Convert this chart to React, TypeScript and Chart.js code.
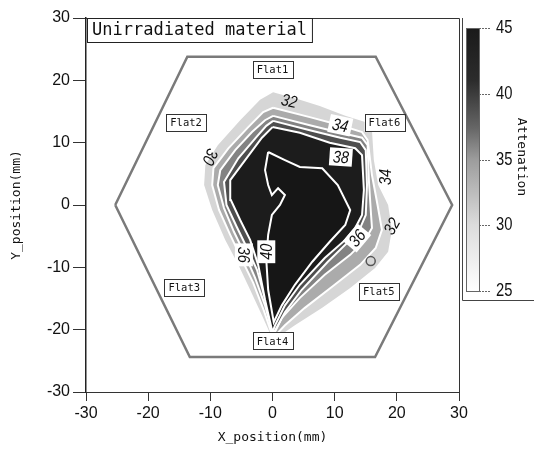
import React, { useEffect, useRef } from 'react';
import { Chart, registerables } from 'chart.js';
Chart.register(...registerables);

// ---------- data ----------
const xTickValues = [-30, -20, -10, 0, 10, 20, 30];
const yTickValues = [-30, -20, -10, 0, 10, 20, 30];

const hexX = [-25.3, -13.7, 16.6, 28.9, 16.5, -13.3, -25.3];
const hexY = [0, 23.8, 23.8, 0, -24.4, -24.4, 0];

const contourLevels = [30, 32, 34, 36, 38, 40];

const c30X = [0.1, 4.4, 7.6, 11.7, 14.9, 16.0, 16.3, 17.0, 18.6, 19.2, 18.6, 16.5, 12.5, 8.0, 3.6, 0.1, -1.7, -3.6, -5.5, -7.6, -9.7, -11.0, -10.8, -8.8, -5.2, -2.0, 0.1];
const c30Y = [18.1, 16.9, 15.9, 14.3, 13.3, 12.0, 7.2, 3.2, 0, -4.0, -7.5, -10.1, -13.3, -16.5, -19.3, -21.7, -17.7, -13.6, -9.6, -5.6, -0.8, 3.2, 6.4, 9.6, 13.6, 16.9, 18.1];

const c32X = [0.1, 6.0, 10.9, 14.4, 15.3, 16.0, 16.9, 17.6, 16.6, 14.1, 10.0, 5.2, 2.0, 0.1, -1.4, -3.1, -4.9, -6.8, -8.6, -9.7, -9.5, -7.1, -3.9, -1.5, 0.1];
const c32Y = [15.6, 14.1, 12.8, 11.7, 10.4, 4.8, 0, -4.0, -6.9, -9.6, -12.8, -16.5, -19.3, -21.3, -16.9, -12.5, -8.8, -4.8, -0.8, 3.2, 5.9, 9.1, 12.5, 14.9, 15.6];

const c34X = [0.1, 6.0, 10.9, 14.4, 15.3, 15.5, 15.8, 16.0, 14.9, 12.5, 8.4, 4.4, 1.5, 0.1, -1.2, -2.8, -4.4, -6.2, -7.8, -8.8, -8.4, -6.0, -3.3, -1.2, 0.1];
const c34Y = [14.3, 12.8, 11.6, 10.8, 9.6, 4.0, -0.8, -3.7, -5.6, -8.0, -11.2, -14.9, -18.1, -21.0, -16.1, -11.7, -8.0, -4.3, -0.5, 3.2, 5.6, 8.8, 11.7, 13.6, 14.3];

const c36X = [0.1, 6.0, 10.9, 14.1, 15.0, 15.2, 15.0, 14.1, 12.5, 8.9, 4.7, 2.0, 0.1, -1.0, -2.5, -4.1, -5.8, -7.4, -7.8, -5.5, -2.6, -1.0, 0.1];
const c36Y = [13.5, 12.0, 10.8, 10.1, 8.8, 3.2, -1.6, -3.7, -5.6, -9.1, -13.6, -17.2, -20.7, -15.6, -10.4, -6.9, -3.4, 0, 3.7, 7.5, 10.9, 12.7, 13.5];

const c38X = [0, 4.4, 9.2, 13.3, 14.4, 14.7, 14.4, 13.3, 11.7, 8.4, 4.4, 2.0, 0.4, 0, -1.2, -2.3, -3.6, -5.2, -6.7, -6.8, -4.4, -1.7, 0];
const c38Y = [12.5, 11.6, 10.0, 9.1, 8.0, 2.4, -1.6, -3.7, -5.6, -8.5, -12.8, -16.1, -19.3, -20.4, -15.2, -9.6, -5.6, -2.4, 0.8, 4.0, 7.2, 10.8, 12.5];

const c40X = [-0.7, 2.0, 4.4, 8.0, 10.5, 12.5, 11.7, 9.2, 6.4, 3.6, 1.5, 0.2, -0.7, -1.0, -0.7, -0.1, 1.2, 2.0, 0.9, -0.1, -0.7, -1.2, -0.7];
const c40Y = [8.5, 7.2, 6.1, 5.9, 3.2, -0.8, -3.2, -5.9, -9.1, -12.8, -16.1, -18.8, -13.6, -8.8, -4.8, -1.6, 0.0, 1.6, 2.7, 1.6, 3.2, 5.6, 8.5];

const contourLabelText = ['32', '34', '38', '30', '34', '32', '36', '36', '40'];
const contourLabelX = [2.7, 10.9, 11.0, -10.0, 18.2, 19.2, 13.6, -4.6, -1.0];
const contourLabelY = [16.7, 12.8, 7.7, 7.7, 4.5, -3.4, -5.3, -8.0, -7.5];

const markerX = [15.8];
const markerY = [-9.0];

const flatNames = ['Flat1', 'Flat2', 'Flat3', 'Flat4', 'Flat5', 'Flat6'];
const flatX = [0, -13.9, -14.2, 0, 17.1, 18.0];
const flatY = [21.7, 13.3, -13.2, -21.8, -13.8, 13.2];

const colorbarTicks = [25, 30, 35, 40, 45];
const colorbarMin = 25;
const colorbarMax = 45;

const titleText = 'Unirradiated material';
const xTitle = 'X_position(mm)';
const yTitle = 'Y_position(mm)';
const colorbarTitle = 'Attenation';

// ---------- styles ----------
const bandColors = ['#d6d6d6', '#ababab', '#838383', '#4e4e4e', '#1c1c1c', '#161616'];
const labelAngles = [12, 12, 4, 115, -90, -60, -50, 90, -90];
const labelBoxed = [false, true, true, false, false, false, true, true, true];
const SANS = '"Liberation Sans", Arial, sans-serif';
const MONO = '"DejaVu Sans Mono", monospace';

const toPts = (xs: number[], ys: number[]) => xs.map((x, i) => ({ x, y: ys[i] }));

const overlayPlugin = {
  id: 'overlay',
  afterDatasetsDraw(chart: any) {
    const { ctx, chartArea } = chart;
    const xs = chart.scales.x;
    const ys = chart.scales.y;
    ctx.save();
    // contour labels
    contourLabelText.forEach((t, i) => {
      const px = xs.getPixelForValue(contourLabelX[i]);
      const py = ys.getPixelForValue(contourLabelY[i]);
      ctx.save();
      ctx.translate(px, py);
      ctx.rotate((labelAngles[i] * Math.PI) / 180);
      ctx.scale(0.85, 1);
      ctx.font = 'italic 17px ' + SANS;
      const w = ctx.measureText(t).width;
      if (labelBoxed[i]) {
        ctx.fillStyle = '#ffffff';
        ctx.fillRect(-w / 2 - 4, -9, w + 8, 18);
      }
      ctx.fillStyle = '#111';
      ctx.textAlign = 'center';
      ctx.textBaseline = 'middle';
      ctx.fillText(t, 0, 1);
      ctx.restore();
    });
    // marker circle
    markerX.forEach((mx, i) => {
      ctx.beginPath();
      ctx.arc(xs.getPixelForValue(mx), ys.getPixelForValue(markerY[i]), 4.5, 0, Math.PI * 2);
      ctx.strokeStyle = '#555';
      ctx.lineWidth = 1.5;
      ctx.stroke();
    });
    // flat labels
    ctx.font = '10.5px ' + MONO;
    flatNames.forEach((n, i) => {
      const px = xs.getPixelForValue(flatX[i]);
      const py = ys.getPixelForValue(flatY[i]);
      const w = ctx.measureText(n).width + 8;
      const h = 17;
      ctx.fillStyle = '#fff';
      ctx.fillRect(px - w / 2, py - h / 2, w, h);
      ctx.strokeStyle = '#333';
      ctx.lineWidth = 1;
      ctx.strokeRect(Math.round(px - w / 2) + 0.5, Math.round(py - h / 2) + 0.5, Math.round(w), h);
      ctx.fillStyle = '#111';
      ctx.textAlign = 'center';
      ctx.textBaseline = 'middle';
      ctx.fillText(n, px, py + 1);
    });
    // frame (top & right)
    ctx.strokeStyle = '#333';
    ctx.lineWidth = 1;
    ctx.beginPath();
    ctx.moveTo(chartArea.left, chartArea.top + 0.5);
    ctx.lineTo(chartArea.right + 0.5, chartArea.top + 0.5);
    ctx.lineTo(chartArea.right + 0.5, chartArea.bottom);
    ctx.stroke();
    // title box
    ctx.font = '17px ' + MONO;
    const tw = ctx.measureText(titleText).width;
    const bx = chartArea.left + 1;
    const by = chartArea.top;
    ctx.fillStyle = '#fff';
    ctx.fillRect(bx, by, tw + 10, 24);
    ctx.strokeStyle = '#222';
    ctx.strokeRect(bx + 0.5, by + 0.5, tw + 10, 24);
    ctx.fillStyle = '#111';
    ctx.textAlign = 'left';
    ctx.textBaseline = 'middle';
    ctx.fillText(titleText, bx + 5, by + 13);
    ctx.restore();
  },
  afterDraw(chart: any) {
    const { ctx, chartArea, width } = chart;
    ctx.save();
    // legend frame
    const fx = chartArea.right + 3.5;
    ctx.strokeStyle = '#444';
    ctx.lineWidth = 1;
    ctx.beginPath();
    ctx.moveTo(fx, chartArea.top);
    ctx.lineTo(fx, 300.5);
    ctx.lineTo(width, 300.5);
    ctx.stroke();
    // colorbar
    const cx0 = chartArea.right + 7;
    const cw = 13;
    const top = chartArea.top + 10;
    const bot = 291;
    const g = ctx.createLinearGradient(0, top, 0, bot);
    g.addColorStop(0, '#1a1a1a');
    g.addColorStop(0.2, '#2c2c2c');
    g.addColorStop(0.38, '#666666');
    g.addColorStop(0.5, '#9c9c9c');
    g.addColorStop(0.75, '#dcdcdc');
    g.addColorStop(1, '#ffffff');
    ctx.fillStyle = g;
    ctx.fillRect(cx0, top, cw, bot - top);
    ctx.strokeStyle = '#666';
    ctx.strokeRect(cx0 + 0.5, top + 0.5, cw, bot - top);
    ctx.fillStyle = '#111';
    ctx.textAlign = 'left';
    ctx.textBaseline = 'middle';
    colorbarTicks.forEach((v) => {
      const y = Math.round(top + ((colorbarMax - v) / (colorbarMax - colorbarMin)) * (bot - top)) + 0.5;
      ctx.strokeStyle = '#666';
      ctx.setLineDash([2, 1]);
      ctx.beginPath();
      ctx.moveTo(cx0 + cw, y);
      ctx.lineTo(cx0 + cw + 12, y);
      ctx.stroke();
      ctx.setLineDash([]);
      ctx.save();
      ctx.translate(cx0 + cw + 17, y);
      ctx.scale(0.82, 1);
      ctx.font = '18px ' + SANS;
      ctx.fillText(String(v), 0, 0);
      ctx.restore();
    });
    ctx.save();
    ctx.translate(521, 157);
    ctx.rotate(Math.PI / 2);
    ctx.font = '13px ' + MONO;
    ctx.textAlign = 'center';
    ctx.textBaseline = 'middle';
    ctx.fillText(colorbarTitle, 0, 0);
    ctx.restore();
    ctx.restore();
  },
};

export default function App() {
  const ref = useRef<HTMLCanvasElement | null>(null);
  useEffect(() => {
    document.body.style.margin = '0';
    const canvas = ref.current;
    if (!canvas) return;
    const polys = [
      { xs: c40X, ys: c40Y },
      { xs: c38X, ys: c38Y },
      { xs: c36X, ys: c36Y },
      { xs: c34X, ys: c34Y },
      { xs: c32X, ys: c32Y },
      { xs: c30X, ys: c30Y },
    ];
    const contourSets = polys.map((p, i) => ({
      label: 'level ' + contourLevels[contourLevels.length - 1 - i],
      data: toPts(p.xs, p.ys),
      showLine: true,
      fill: 'shape',
      backgroundColor: bandColors[bandColors.length - 1 - i],
      borderColor: '#ffffff',
      borderWidth: i === 5 ? 0 : 2,
      pointRadius: 0,
      tension: 0,
      order: i + 1,
    }));
    const chart = new Chart(canvas, {
      type: 'scatter',
      data: {
        datasets: [
          ...contourSets,
          {
            label: 'hexagon',
            data: toPts(hexX, hexY),
            showLine: true,
            fill: false,
            borderColor: '#7a7a7a',
            borderWidth: 2.5,
            pointRadius: 0,
            order: 0,
          },
        ] as any,
      },
      options: {
        animation: false,
        responsive: false,
        devicePixelRatio: 1,
        layout: { padding: { left: 0, right: 75, top: 18, bottom: 0 } },
        plugins: { legend: { display: false }, tooltip: { enabled: false } },
        scales: {
          x: {
            type: 'linear',
            min: -30,
            max: 30,
            afterBuildTicks: (s: any) => { s.ticks = xTickValues.map((v) => ({ value: v })); },
            afterFit: (s: any) => { s.height = 61; },
            grid: { drawOnChartArea: false, drawTicks: true, tickLength: 9, tickColor: '#333' },
            border: { display: true, color: '#333', width: 1 },
            ticks: { color: '#111', padding: 3, maxRotation: 0, font: { size: 16, family: SANS } },
            title: { display: true, text: xTitle, color: '#111', font: { size: 13, family: MONO }, padding: { bottom: 8, top: 0 } },
          },
          y: {
            type: 'linear',
            min: -30,
            max: 30,
            afterBuildTicks: (s: any) => { s.ticks = yTickValues.map((v) => ({ value: v })); },
            afterFit: (s: any) => { s.width = 86; },
            grid: { drawOnChartArea: false, drawTicks: true, tickLength: 13, tickColor: '#333' },
            border: { display: true, color: '#222', width: 1.5 },
            ticks: { color: '#111', padding: 3, font: { size: 16, family: SANS } },
            title: { display: true, text: yTitle, color: '#111', font: { size: 13, family: MONO }, padding: { top: 9, bottom: 0 } },
          },
        },
      } as any,
      plugins: [overlayPlugin],
    });
    return () => chart.destroy();
  }, []);
  return (
    <div style={{ width: 534, height: 453 }}>
      <canvas ref={ref} width={534} height={453} style={{ width: 534, height: 453, display: 'block' }} />
    </div>
  );
}
